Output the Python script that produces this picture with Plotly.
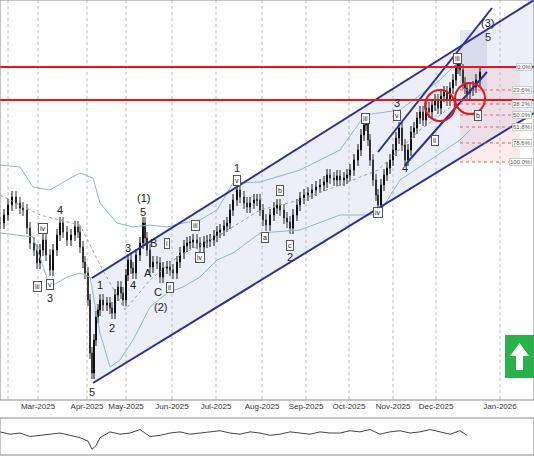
import plotly.graph_objects as go

# ---- data (pixel-space reading of the reference) ----
bar_x = [0,4,8,12,16,20,23,27,30,34,37,40,43,46,50,53,57,60,63,67,71,75,78,80,83,85,88,90,92,94,96,98,100,103,107,110,112,115,118,121,123,126,128,131,133,136,140,143,145,147,150,153,157,160,163,167,170,173,177,180,184,187,190,193,197,200,204,207,210,214,217,220,224,227,230,233,237,240,244,247,250,254,257,260,263,266,270,274,277,280,284,287,290,293,297,300,304,308,312,316,320,324,327,330,334,337,340,344,347,350,354,358,361,364,366,368,370,373,376,378,381,384,387,390,393,396,399,402,405,408,411,414,417,420,423,426,429,432,435,438,441,444,447,450,453,456,458,460,463,465,467,470,473,476,480]
closes = [223,215,205,197,203,208,210,228,243,250,263,250,240,255,270,250,235,223,232,240,235,227,232,247,262,273,300,353,373,340,317,310,300,305,303,308,313,295,287,293,300,275,260,268,273,255,243,223,238,250,267,262,263,277,268,267,270,273,262,253,246,243,242,240,243,247,242,241,240,236,232,230,226,223,210,200,190,197,203,207,203,200,200,210,220,225,215,208,205,210,218,222,228,215,205,198,195,193,190,187,185,182,175,178,180,176,180,178,175,170,160,150,135,125,120,140,160,180,195,205,185,175,168,160,150,138,128,145,160,150,132,128,118,112,120,108,112,105,100,108,96,92,100,88,80,68,62,70,83,88,93,90,87,80,72]
opens = [closes[0]] + closes[:-1]

bb_up_x = [0,20,33,50,67,80,93,100,117,133,150,167,183,200,217,233,260,300,340,365,400,440,460]
bb_up_y = [165,167,187,190,180,173,178,203,223,227,225,227,223,220,210,183,182,170,150,115,110,80,60]
bb_lo_x = [0,33,50,67,80,90,100,110,120,133,150,167,183,200,217,233,260,300,340,378,400,430,460,470]
bb_lo_y = [233,237,287,277,273,277,333,367,360,340,307,293,287,277,260,253,233,230,215,215,180,160,140,130]
mid_x = [0,40,80,100,125,150,180,220,260,300,340,378,420,460]
mid_y = [195,215,225,265,310,280,255,235,210,200,185,170,130,100]

osc_x = [0,10,20,30,40,50,60,70,80,88,92,96,100,110,120,130,140,150,160,170,180,190,200,210,220,230,240,250,260,270,280,290,300,310,320,330,340,350,360,370,380,390,400,410,420,430,440,450,460,467]
osc_y = [432,434,433,436,435,434,433,435,437,440,447,444,437,432,434,433,430,436,435,433,432,434,433,432,431,433,434,432,433,435,434,432,433,434,432,433,433,431,432,430,434,432,431,433,432,430,432,434,431,435]

tick_pos = [8,38,87,126,172,216,262,306,349,393,436,500]
tick_text = ["2025","Mar-2025","Apr-2025","May-2025","Jun-2025","Jul-2025","Aug-2025","Sep-2025","Oct-2025","Nov-2025","Dec-2025","Jan-2026"]

fib_levels = [67,90,104,115,127,143,162]
fib_text = ["0.0%","23.6%","38.2%","50.0%","61.8%","78.6%","100.0%"]

wave_labels = [("3",50,298),("4",60,210),("(1)",143,198),("5",143,212),("3",128,248),("4",133,285),
               ("1",100,285),("2",112,328),("5",92,392),("B",153,243),("A",148,273),("C",158,292),
               ("(2)",160,307),("1",237,168),("2",290,257),("3",397,103),("4",405,168),("(3)",487,23),("5",488,37)]
circle_labels = [("iii",37,286),("v",50,284),("iv",43,228),("i",167,243),("ii",170,287),("iii",195,225),
                 ("iv",200,257),("v",237,180),("a",265,237),("b",280,190),("c",290,245),("iii",365,118),
                 ("v",397,115),("iv",378,212),("ii",435,140),("iii",457,58),("b",478,115)]

fig = go.Figure()
fig.add_trace(go.Scatter(x=bb_up_x, y=bb_up_y, mode="lines", line=dict(color="#8fb8c4", width=1), hoverinfo="skip"))
fig.add_trace(go.Scatter(x=bb_lo_x, y=bb_lo_y, mode="lines", line=dict(color="#8fb8c4", width=1), hoverinfo="skip"))
fig.add_trace(go.Scatter(x=mid_x, y=mid_y, mode="lines", line=dict(color="#999", width=1, dash="dot"), hoverinfo="skip"))
fig.add_trace(go.Candlestick(x=bar_x, open=opens, close=closes,
                             high=[min(o, c) - 6 for o, c in zip(opens, closes)],
                             low=[max(o, c) + 6 for o, c in zip(opens, closes)],
                             increasing=dict(line=dict(color="#333", width=1), fillcolor="#777"),
                             decreasing=dict(line=dict(color="#111", width=1), fillcolor="#222"),
                             whiskerwidth=0))
fig.add_trace(go.Scatter(x=osc_x, y=osc_y, mode="lines", line=dict(color="#444", width=1), xaxis="x", yaxis="y2"))

shapes = []
shapes.append(dict(type="path", path="M 92 278 L 534 0 L 534 113 L 93 383 Z", fillcolor="rgba(200,205,235,0.35)", line=dict(width=0), layer="below"))
shapes.append(dict(type="line", x0=92, y0=278, x1=534, y1=0, line=dict(color="#2e2e9a", width=2)))
shapes.append(dict(type="line", x0=93, y0=383, x1=534, y1=113, line=dict(color="#2e2e9a", width=2)))
shapes.append(dict(type="line", x0=378, y0=152, x1=492, y1=8, line=dict(color="#2e2e9a", width=2)))
shapes.append(dict(type="line", x0=405, y0=165, x1=487, y1=72, line=dict(color="#2e2e9a", width=2)))
shapes.append(dict(type="rect", x0=460, y0=30, x1=487, y1=90, fillcolor="rgba(170,175,210,0.3)", line=dict(width=0), layer="below"))
shapes.append(dict(type="rect", x0=460, y0=67, x1=520, y1=162, fillcolor="rgba(240,180,180,0.25)", line=dict(width=0), layer="below"))
for lv in fib_levels:
    shapes.append(dict(type="line", x0=460, y0=lv, x1=520, y1=lv, line=dict(color="#e06060", width=1, dash="dot")))
shapes.append(dict(type="line", x0=0, y0=67, x1=534, y1=67, line=dict(color="#e8161b", width=2)))
shapes.append(dict(type="line", x0=0, y0=100, x1=534, y1=100, line=dict(color="#e8161b", width=2)))
shapes.append(dict(type="circle", x0=425, y0=90, x1=455, y1=121, line=dict(color="#e8161b", width=2)))
shapes.append(dict(type="circle", x0=455, y0=83, x1=485, y1=114, line=dict(color="#e8161b", width=2)))
for tp in tick_pos:
    shapes.append(dict(type="line", x0=tp, y0=0, x1=tp, y1=400, line=dict(color="#bbb", width=1, dash="dot"), layer="below"))
shapes.append(dict(type="rect", x0=505, y0=335, x1=534, y1=378, fillcolor="#27b34a", line=dict(width=0)))
shapes.append(dict(type="path", path="M 519.5 343 L 529 356 L 523 356 L 523 370 L 516 370 L 516 356 L 510 356 Z",
                   fillcolor="white", line=dict(width=0)))
shapes.append(dict(type="rect", xref="paper", yref="paper", x0=0, y0=(462-400)/462, x1=1, y1=1, line=dict(color="#888", width=1)))
shapes.append(dict(type="rect", xref="paper", yref="paper", x0=0, y0=7/462, x1=1, y1=44/462, line=dict(color="#888", width=1)))

ann = []
for t, x, y in wave_labels:
    ann.append(dict(x=x, y=y, text=t, showarrow=False, font=dict(size=11, color="#222")))
for t, x, y in circle_labels:
    ann.append(dict(x=x, y=y, text=t, showarrow=False, font=dict(size=7, color="#222"),
                    bordercolor="#555", borderwidth=1, borderpad=1, bgcolor="white"))
for lv, t in zip(fib_levels, fib_text):
    ann.append(dict(x=532, y=lv, text=t, showarrow=False, xanchor="right", font=dict(size=6, color="#555"),
                    bgcolor="white", bordercolor="#ccc", borderwidth=1, borderpad=0))

fig.update_layout(
    width=534, height=462, margin=dict(l=0, r=0, t=0, b=0, autoexpand=False),
    paper_bgcolor="white", plot_bgcolor="white", showlegend=False,
    font=dict(family="Liberation Sans, Arial", size=8, color="#333"),
    shapes=shapes, annotations=ann,
    xaxis=dict(range=[0, 534], tickvals=tick_pos, ticktext=tick_text, showgrid=False, zeroline=False,
               rangeslider=dict(visible=False), ticks="", tickfont=dict(size=8), anchor="y", automargin=False),
    yaxis=dict(domain=[(462-400)/462, 1], range=[400, 0], showticklabels=False, showgrid=False, zeroline=False, automargin=False),
    yaxis2=dict(domain=[7/462, 44/462], range=[452, 420], showticklabels=False, showgrid=False, zeroline=False, automargin=False),
)
fig.write_html("out.html", config={"displayModeBar": False},
               post_script="document.body.style.margin='0';document.body.style.overflow='hidden';")
